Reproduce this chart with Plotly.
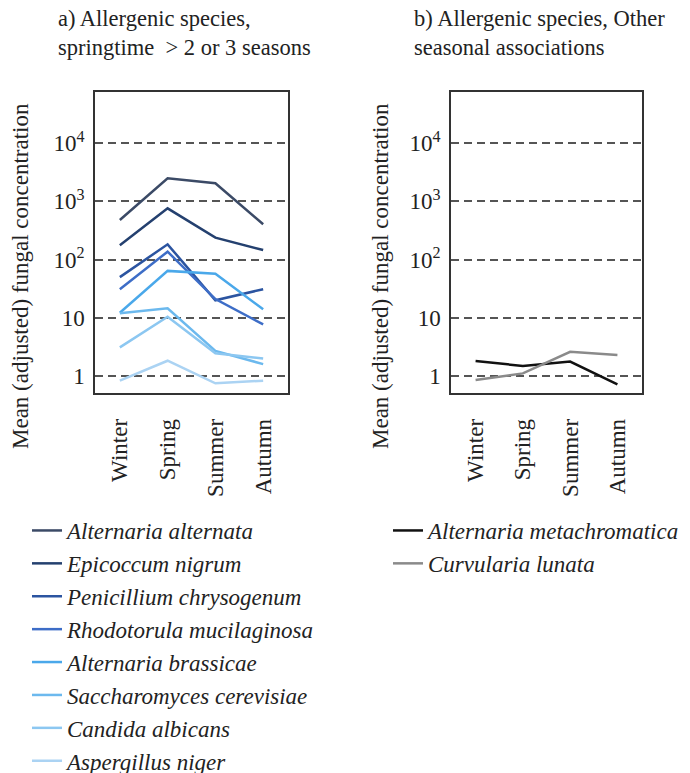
import plotly.graph_objects as go

seasons = ["Winter", "Spring", "Summer", "Autumn"]

# Panel a) values
a_alt = [480, 2500, 2050, 405]
e_nig = [176, 760, 238, 146]
p_chr = [50, 183, 20, 31]
r_muc = [31, 137, 21, 7.7]
a_bra = [12.2, 64, 57, 14]
s_cer = [12, 14.6, 2.7, 1.6]
c_alb = [3.1, 10.4, 2.45, 2.0]
a_nig = [0.83, 1.83, 0.75, 0.83]

# Panel b) values
a_met = [1.81, 1.49, 1.77, 0.72]
c_lun = [0.85, 1.11, 2.6, 2.3]

names_a = ["Alternaria alternata", "Epicoccum nigrum", "Penicillium chrysogenum",
           "Rhodotorula mucilaginosa", "Alternaria brassicae", "Saccharomyces cerevisiae",
           "Candida albicans", "Aspergillus niger"]
series_a = [a_alt, e_nig, p_chr, r_muc, a_bra, s_cer, c_alb, a_nig]
colors_a = ["#3b4a66", "#24406f", "#2b54a0", "#3d6dc7", "#4aa8ea", "#6cb9ee", "#8cc7f1", "#abd3f3"]

names_b = ["Alternaria metachromatica", "Curvularia lunata"]
series_b = [a_met, c_lun]
colors_b = ["#111111", "#8a8a8a"]

tickvals = [1, 10, 100, 1000, 10000]
ticktext = ["1", "10", "10<sup>2</sup>", "10<sup>3</sup>", "10<sup>4</sup>"]

FONT = "Liberation Serif, Times New Roman, serif"
W, H = 690, 773

fig = go.Figure()
for i, (n, s, c) in enumerate(zip(names_a, series_a, colors_a)):
    fig.add_trace(go.Scatter(x=seasons, y=s, name="<i>" + n + "</i>", mode="lines",
                             line=dict(color=c, width=2.5), xaxis="x", yaxis="y",
                             legend="legend", legendgroup="a%d" % i))
for i, (n, s, c) in enumerate(zip(names_b, series_b, colors_b)):
    fig.add_trace(go.Scatter(x=seasons, y=s, name="<i>" + n + "</i>", mode="lines",
                             line=dict(color=c, width=2.5), xaxis="x2", yaxis="y2",
                             legend="legend2", legendgroup="b%d" % i))

def px_x(p):
    return p / W

def px_y(p):
    return 1 - p / H

xcommon = dict(type="category", range=[-0.52, 3.52], tickangle=-90,
               showline=True, mirror=True, linecolor="#333", linewidth=1.5,
               showgrid=False, ticks="", ticklabelstandoff=15,
               tickfont=dict(family=FONT, size=23, color="#222"))
ycommon = dict(type="log", range=[-0.292, 4.88], tickvals=tickvals, ticktext=ticktext,
               showline=True, mirror=True, linecolor="#333", linewidth=1.5,
               showgrid=True, gridcolor="#555", gridwidth=1.5, griddash="8px,5px",
               ticks="", zeroline=False, ticklabelstandoff=4,
               tickfont=dict(family=FONT, size=23, color="#222"))

ydom = [px_y(393), px_y(92)]
fig.update_layout(
    width=W, height=H, margin=dict(l=0, r=0, t=0, b=0, autoexpand=False),
    paper_bgcolor="white", plot_bgcolor="white",
    font=dict(family=FONT, color="#222"),
    xaxis=dict(domain=[px_x(95), px_x(288)], anchor="y", **xcommon),
    yaxis=dict(domain=ydom, anchor="x", **ycommon),
    xaxis2=dict(domain=[px_x(451), px_x(642)], anchor="y2", **xcommon),
    yaxis2=dict(domain=ydom, anchor="x2", **ycommon),
    legend=dict(x=px_x(27), y=px_y(509), xanchor="left", yanchor="top",
                font=dict(family=FONT, size=23, color="#222"),
                tracegroupgap=0, bgcolor="rgba(0,0,0,0)"),
    legend2=dict(x=px_x(388), y=px_y(509), xanchor="left", yanchor="top",
                 font=dict(family=FONT, size=23, color="#222"),
                 tracegroupgap=0, bgcolor="rgba(0,0,0,0)"),
    showlegend=True,
)

ann_font = dict(family=FONT, size=22.5, color="#222")
fig.add_annotation(x=px_x(56), y=px_y(33), xref="paper", yref="paper", xanchor="left", yanchor="middle",
                   text="a) Allergenic species,<br>springtime  > 2 or 3 seasons", showarrow=False,
                   align="left", font=ann_font)
fig.add_annotation(x=px_x(412), y=px_y(33), xref="paper", yref="paper", xanchor="left", yanchor="middle",
                   text="b) Allergenic species, Other<br>seasonal associations", showarrow=False,
                   align="left", font=ann_font)
yt_font = dict(family=FONT, size=23, color="#222")
fig.add_annotation(x=px_x(20), y=px_y(276), xref="paper", yref="paper", xanchor="center", yanchor="middle",
                   text="Mean (adjusted) fungal concentration", textangle=-90, showarrow=False,
                   font=yt_font)
fig.add_annotation(x=px_x(380), y=px_y(276), xref="paper", yref="paper", xanchor="center", yanchor="middle",
                   text="Mean (adjusted) fungal concentration", textangle=-90, showarrow=False,
                   font=yt_font)

fig.write_html("out.html", config={"displayModeBar": False},
               post_script="document.body.style.margin='0';")
